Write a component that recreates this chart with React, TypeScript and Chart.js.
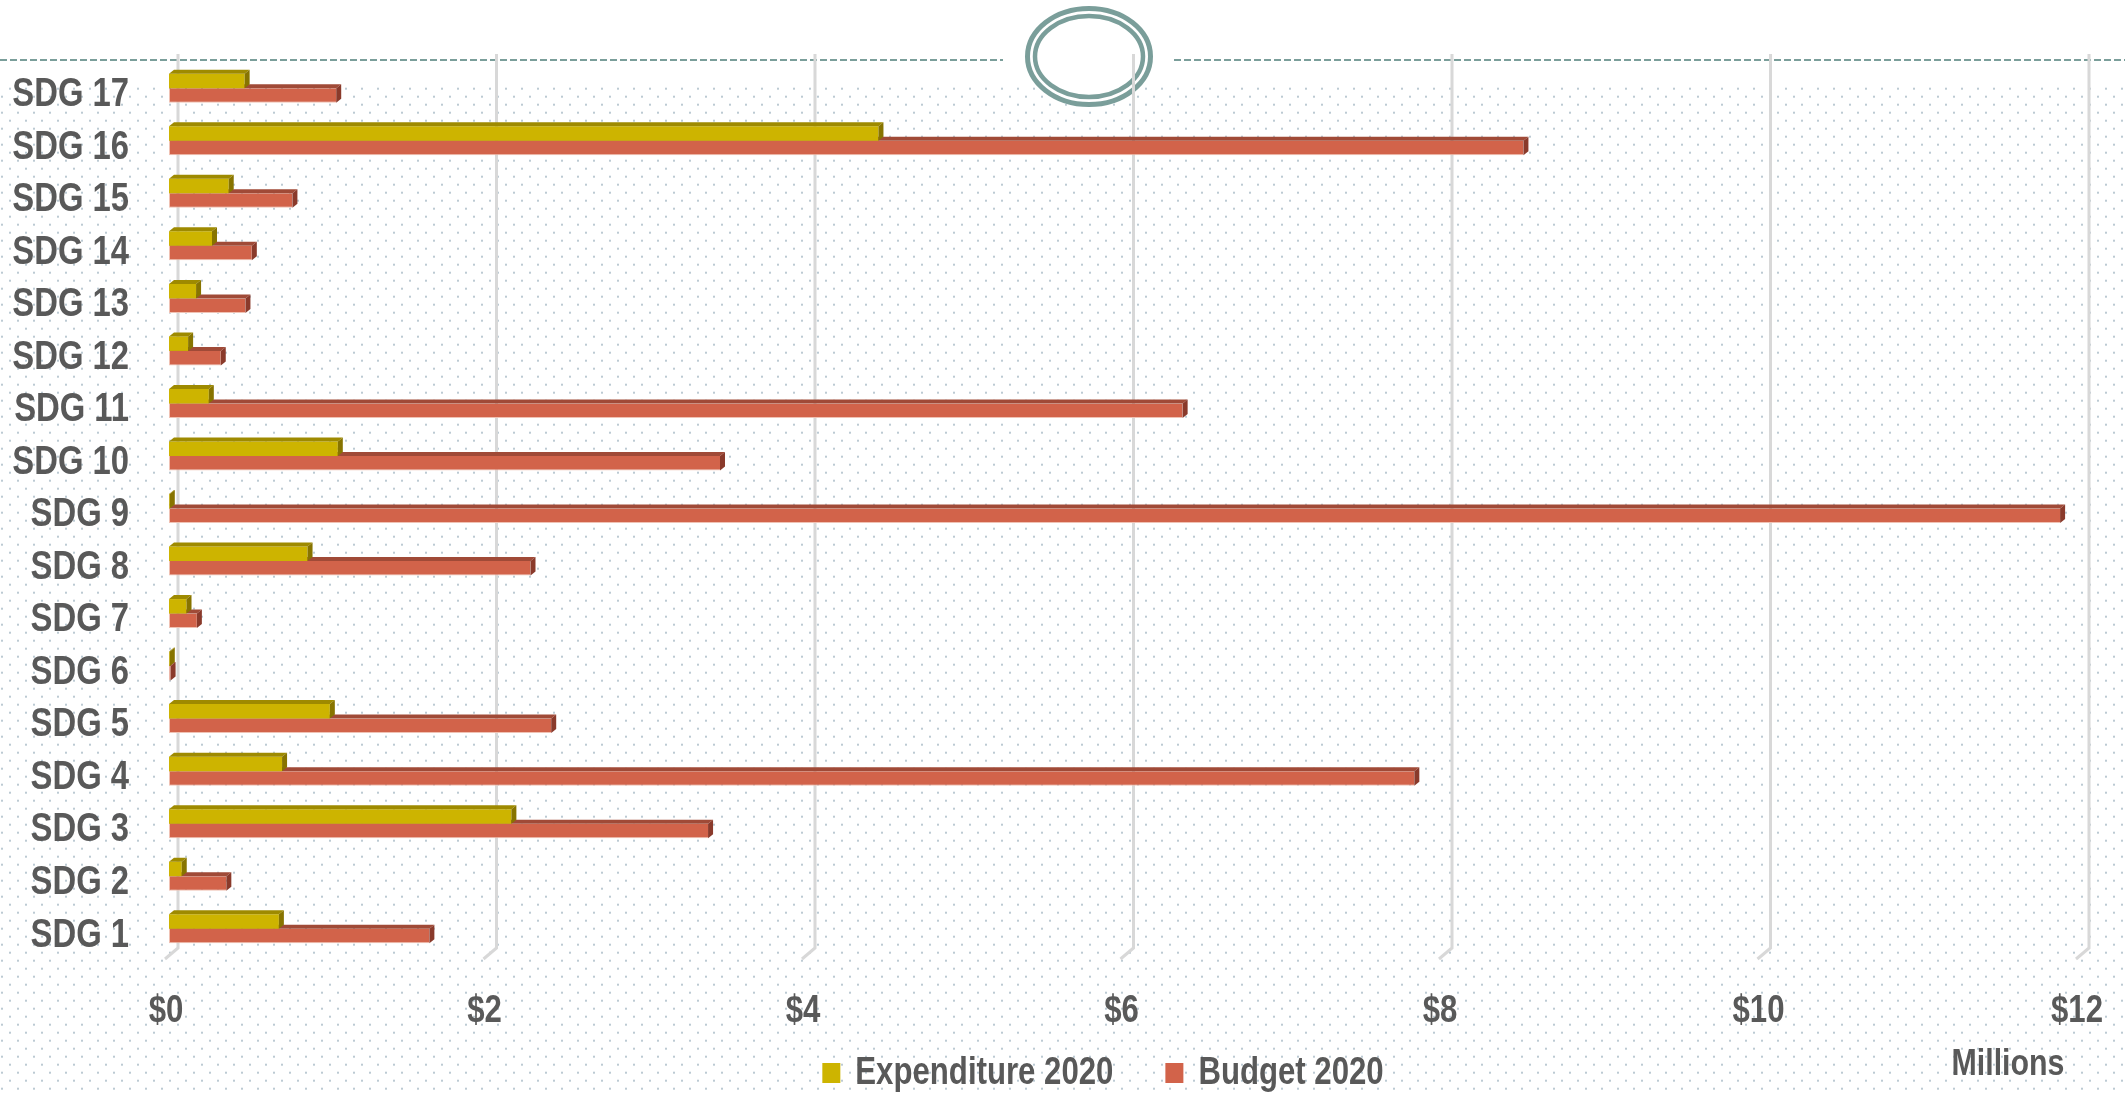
import React, { useEffect, useRef } from "react";
import { Chart, registerables } from "chart.js";

Chart.register(...registerables);

// ---- data ----
const categories = [
  "SDG 1", "SDG 2", "SDG 3", "SDG 4", "SDG 5", "SDG 6", "SDG 7", "SDG 8", "SDG 9",
  "SDG 10", "SDG 11", "SDG 12", "SDG 13", "SDG 14", "SDG 15", "SDG 16", "SDG 17",
];
const expenditure2020 = [0.69, 0.08, 2.15, 0.71, 1.01, 0.005, 0.11, 0.87, 0.005, 1.06, 0.25, 0.12, 0.17, 0.27, 0.375, 4.455, 0.475];
const budget2020 = [1.635, 0.36, 3.385, 7.82, 2.4, 0.01, 0.175, 2.27, 11.875, 3.46, 6.365, 0.325, 0.48, 0.52, 0.775, 8.505, 1.05];
const xTickValues = [0, 2, 4, 6, 8, 10, 12];
const seriesLabels = ["Expenditure 2020", "Budget 2020"];
const unitLabel = "Millions";

const FONT = "'Liberation Sans', Arial, sans-serif";
const TEXT = "#595959";
const SQUEEZE = 0.82;
const DX = 5;
const DY = 4;

function drawNarrow(ctx: CanvasRenderingContext2D, text: string, x: number, y: number, align: CanvasTextAlign) {
  ctx.save();
  ctx.translate(x, y);
  ctx.scale(SQUEEZE, 1);
  ctx.textAlign = align;
  ctx.textBaseline = "alphabetic";
  ctx.fillText(text, 0, 0);
  ctx.restore();
}

const decorPlugin = {
  id: "decor",
  beforeDraw(chart: any) {
    const { ctx, width, height } = chart;
    ctx.save();
    ctx.fillStyle = "#ffffff";
    ctx.fillRect(0, 0, width, height);
    // dotted texture
    ctx.fillStyle = "#bccad3";
    for (let j = 11; j * 8 < height + 8; j++) {
      const y = j * 8 + 0.7;
      const start = j % 2 === 0 ? 2 : 10;
      for (let x = start; x < width; x += 16) {
        ctx.fillRect(x - 1, y - 1, 2, 2);
      }
    }
    // dashed header line
    ctx.strokeStyle = "#7a9e9a";
    ctx.lineWidth = 2;
    ctx.setLineDash([7, 3]);
    ctx.beginPath();
    ctx.moveTo(0, 60);
    ctx.lineTo(1003, 60);
    ctx.moveTo(1174, 60);
    ctx.lineTo(width, 60);
    ctx.stroke();
    ctx.setLineDash([]);
    // double ring
    ctx.fillStyle = "#ffffff";
    ctx.beginPath();
    ctx.ellipse(1089, 56.5, 64, 51, 0, 0, Math.PI * 2);
    ctx.fill();
    ctx.lineWidth = 5;
    ctx.beginPath();
    ctx.ellipse(1089, 56.5, 61.5, 48, 0, 0, Math.PI * 2);
    ctx.stroke();
    ctx.lineWidth = 4.5;
    ctx.beginPath();
    ctx.ellipse(1089, 56.5, 54, 40.5, 0, 0, Math.PI * 2);
    ctx.stroke();
    ctx.restore();
  },
  beforeDatasetsDraw(chart: any) {
    const { ctx, chartArea } = chart;
    const xs = chart.scales.x;
    ctx.save();
    ctx.strokeStyle = "#d8d8d8";
    ctx.lineWidth = 3;
    xs.ticks.forEach((t: any) => {
      const bx = xs.getPixelForValue(t.value) + 9;
      ctx.beginPath();
      ctx.moveTo(bx, chartArea.top - 8);
      ctx.lineTo(bx, chartArea.bottom - 7);
      ctx.lineTo(bx - 13, chartArea.bottom + 4);
      ctx.stroke();
    });
    ctx.restore();
  },
  afterDraw(chart: any) {
    const { ctx } = chart;
    const xs = chart.scales.x;
    const ys = chart.scales.y;
    ctx.save();
    ctx.fillStyle = TEXT;
    // category labels
    ctx.font = `bold 40px ${FONT}`;
    (chart.data.labels as string[]).forEach((lab, i) => {
      const py = ys.getPixelForValue(i);
      drawNarrow(ctx, lab, ys.right - 40, py + 3.5 + 14.3, "right");
    });
    // value tick labels
    ctx.font = `bold 38px ${FONT}`;
    xs.ticks.forEach((t: any) => {
      const px = xs.getPixelForValue(t.value) - 3;
      drawNarrow(ctx, "$" + t.value, px, 1022, "center");
    });
    // legend
    ctx.font = `bold 38px ${FONT}`;
    const items = chart.data.datasets.map((d: any) => ({ label: d.label, color: d.backgroundColor }));
    const box = 18, gapBox = 15, gapItem = 52;
    const widths = items.map((it: any) => ctx.measureText(it.label).width * SQUEEZE);
    const total = widths.reduce((a: number, w: number) => a + box + gapBox + w, 0) + gapItem * (items.length - 1);
    let lx = 1103 - total / 2;
    items.forEach((it: any, i: number) => {
      ctx.fillStyle = it.color;
      ctx.fillRect(lx, 1063, box, 20);
      ctx.fillStyle = TEXT;
      drawNarrow(ctx, it.label, lx + box + gapBox, 1084, "left");
      lx += box + gapBox + widths[i] + gapItem;
    });
    // unit label
    ctx.font = `bold 37px ${FONT}`;
    drawNarrow(ctx, unitLabel, xs.right - 72, 1075, "center");
    ctx.restore();
  },
};

const bar3dPlugin = {
  id: "bar3d",
  afterDatasetDraw(chart: any, args: any) {
    const ctx = chart.ctx;
    const ds: any = chart.data.datasets[args.index];
    ctx.save();
    args.meta.data.forEach((el: any) => {
      const p = el.getProps(["x", "y", "base", "height"], true);
      const top = p.y - p.height / 2;
      const bottom = p.y + p.height / 2;
      const left = p.base;
      const right = p.x;
      ctx.fillStyle = ds.topColor;
      ctx.beginPath();
      ctx.moveTo(left, top);
      ctx.lineTo(left + DX, top - DY);
      ctx.lineTo(right + DX, top - DY);
      ctx.lineTo(right, top);
      ctx.closePath();
      ctx.fill();
      ctx.fillStyle = ds.sideColor;
      ctx.beginPath();
      ctx.moveTo(right, top);
      ctx.lineTo(right + DX, top - DY);
      ctx.lineTo(right + DX, bottom - DY);
      ctx.lineTo(right, bottom);
      ctx.closePath();
      ctx.fill();
    });
    ctx.restore();
  },
};

export default function App() {
  const ref = useRef<HTMLCanvasElement | null>(null);
  useEffect(() => {
    document.body.style.margin = "0";
    const canvas = ref.current!;
    const chart = new Chart(canvas, {
      type: "bar",
      data: {
        labels: categories,
        datasets: [
          {
            label: seriesLabels[0],
            data: expenditure2020,
            backgroundColor: "#CDB400",
            topColor: "#9E8A00",
            sideColor: "#877400",
            borderWidth: 0,
            categoryPercentage: 0.552,
            barPercentage: 1,
          } as any,
          {
            label: seriesLabels[1],
            data: budget2020,
            backgroundColor: "#D2634A",
            topColor: "#A04A37",
            sideColor: "#8A3A2B",
            borderColor: "#F0C2B4",
            borderWidth: { left: 1, bottom: 1, top: 0, right: 0 },
            borderSkipped: false,
            categoryPercentage: 0.552,
            barPercentage: 1,
          } as any,
        ],
      },
      options: {
        indexAxis: "y",
        responsive: false,
        animation: false,
        devicePixelRatio: 1,
        layout: { padding: { left: 0, right: 45, top: 62, bottom: 0 } },
        plugins: { legend: { display: false }, tooltip: { enabled: false } },
        scales: {
          x: {
            type: "linear",
            min: 0,
            max: 12,
            afterBuildTicks: (s: any) => {
              s.ticks = xTickValues.map((v) => ({ value: v }));
            },
            afterFit: (s: any) => {
              s.height = 140;
            },
            grid: { display: false, drawTicks: false },
            border: { display: false },
            ticks: { display: false },
          },
          y: {
            type: "category",
            reverse: true,
            afterFit: (s: any) => {
              s.width = 169;
            },
            grid: { display: false, drawTicks: false },
            border: { display: false },
            ticks: { display: false, autoSkip: false },
          },
        },
      },
      plugins: [decorPlugin, bar3dPlugin],
    } as any);
    return () => chart.destroy();
  }, []);
  return <canvas ref={ref} width={2125} height={1095} style={{ display: "block" }} />;
}
